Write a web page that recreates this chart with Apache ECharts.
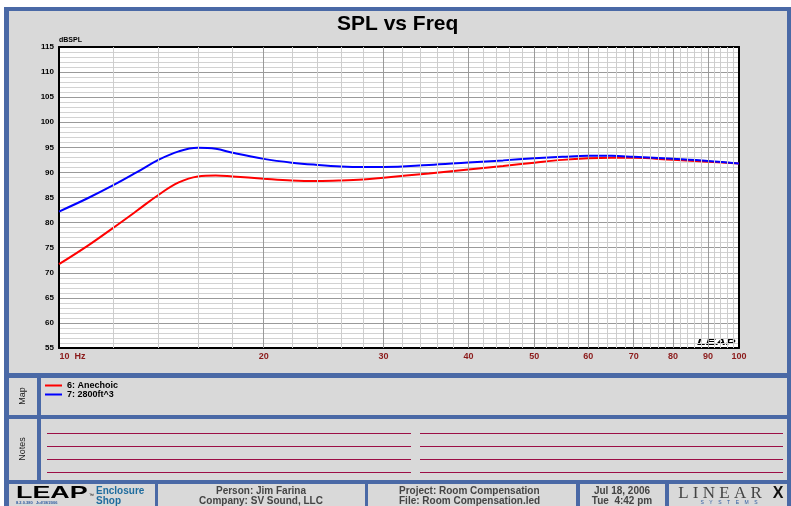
<!DOCTYPE html>
<html>
<head>
<meta charset="utf-8">
<script src="https://cdn.jsdelivr.net/npm/echarts@6/dist/echarts.min.js"></script>
<style>
  html, body { margin: 0; padding: 0; background: #fff; }
  #chart { width: 791px; height: 506px; }
</style>
</head>
<body>
<div id="chart"></div>
<script>
// frequency points (Hz)
const freqs = [10, 11, 12, 13, 14, 15, 16, 17, 18, 20, 22, 24, 26, 28, 30, 35, 40, 45, 50, 55, 60, 65, 70, 80, 90, 100];
// 6: Anechoic (dBSPL)
const anechoic = [71.7, 75.3, 78.9, 82.3, 85.5, 88.0, 89.2, 89.4, 89.2, 88.75, 88.4, 88.3, 88.4, 88.6, 88.95, 89.8, 90.6, 91.3, 91.95, 92.5, 92.8, 92.9, 92.9, 92.5, 92.15, 91.8];
// 7: 2800ft^3 (dBSPL)
const room2800 = [82.2, 84.8, 87.4, 90.0, 92.5, 94.2, 94.9, 94.7, 93.9, 92.7, 91.95, 91.5, 91.2, 91.1, 91.1, 91.5, 92.0, 92.4, 92.8, 93.1, 93.3, 93.3, 93.1, 92.7, 92.3, 91.8];

// x axis labels
const xMajor = [10, 20, 30, 40, 50, 60, 70, 80, 90, 100];
const xLabels = ['10  Hz', '20', '30', '40', '50', '60', '70', '80', '90', '100'];

// minor vertical grid every 2 Hz
const xMinor = [];
for (let f = 12; f < 100; f += 2) {
    if (f % 10 !== 0) xMinor.push(f);
}

const blue = '#4a69a6';
const panel = '#d9d9d9';
const lbl = '#8b1a1a';

function box(x, y, w, h, fill) {
    return { type: 'rect', z: -5, silent: true, shape: { x: x, y: y, width: w, height: h }, style: { fill: fill } };
}
function txt(x, y, s, opt) {
    return Object.assign({ type: 'text', x: x, y: y, silent: true, style: Object.assign({
        text: s, fill: '#444', font: 'bold 10px "Liberation Sans", Arial, sans-serif',
        align: 'center', verticalAlign: 'middle'
    }, opt && opt.style) }, opt && opt.el);
}

const graphics = [
    box(4, 7, 787, 499, blue),
    box(9, 11, 778, 362, panel),
    box(9, 378, 28, 37, panel),
    box(41, 378, 746, 37, panel),
    box(9, 419, 28, 61, panel),
    box(41, 419, 746, 61, panel),
    box(9, 484, 146, 30, panel),
    box(158, 484, 207, 30, panel),
    box(368, 484, 208, 30, panel),
    box(580, 484, 85, 30, panel),
    box(669, 484, 118, 30, panel),
    txt(23, 396, 'Map', { el: { rotation: Math.PI / 2 }, style: { font: '9px "Liberation Sans", sans-serif', fill: '#222' } }),
    txt(23, 449, 'Notes', { el: { rotation: Math.PI / 2 }, style: { font: '9px "Liberation Sans", sans-serif', fill: '#222' } }),
    // LEAP mark inside plot
    txt(697, 343, 'LEAP', { el: { scaleX: 1.6 }, style: { align: 'left', fill: '#000', font: 'italic 900 9px "Liberation Sans", sans-serif' } }),
    // footer
    txt(16, 493, 'LEAP', { el: { scaleX: 1.58 }, style: { align: 'left', fill: '#000', font: '900 17px "Liberation Sans", sans-serif' } }),
    txt(89, 496, '™', { style: { align: 'left', fill: '#000', font: '5px sans-serif' } }),
    txt(16, 503, '8.2.0.380   Jul/18/2006', { style: { align: 'left', fill: '#2c5aa0', font: 'bold 4px "Liberation Sans", sans-serif' } }),
    txt(96, 491, 'Enclosure', { style: { align: 'left', fill: '#1f6c9e', font: 'bold 10px "Liberation Sans", sans-serif' } }),
    txt(96, 501, 'Shop', { style: { align: 'left', fill: '#1f6c9e', font: 'bold 10px "Liberation Sans", sans-serif' } }),
    txt(261, 491, 'Person: Jim Farina'),
    txt(261, 501, 'Company: SV Sound, LLC'),
    txt(399, 491, 'Project: Room Compensation', { style: { align: 'left' } }),
    txt(399, 501, 'File: Room Compensation.led', { style: { align: 'left' } }),
    txt(622, 491, 'Jul 18, 2006'),
    txt(622, 501, 'Tue  4:42 pm'),
    txt(720, 494, 'L I N E A R', { style: { fill: '#444', font: '17px "Liberation Serif", serif' } }),
    txt(778, 494, 'X', { style: { fill: '#111', font: '900 16px "Liberation Sans", sans-serif' } }),
    txt(729, 503, 'S    Y    S    T    E    M    S', { style: { fill: '#2c5aa0', font: '5px "Liberation Sans", sans-serif' } })
];

// notes lines (1px rules, two columns)
[433, 446, 459, 472].forEach(function (y) {
    const a = box(47, y, 364, 1, '#9c0f45');
    const b = box(420, y, 363, 1, '#9c0f45');
    a.z = b.z = 0;
    graphics.push(a, b);
});

const chart = echarts.init(document.getElementById('chart'));
chart.setOption({
    animation: false,
    backgroundColor: '#fff',
    textStyle: { fontFamily: '"Liberation Sans", Arial, sans-serif' },
    title: {
        text: 'SPL vs Freq',
        left: 337,
        top: 14,
        padding: 0,
        textStyle: { fontSize: 21, fontWeight: 'bold', color: '#000' }
    },
    legend: {
        data: ['6: Anechoic', '7: 2800ft^3'],
        orient: 'vertical',
        left: 45,
        top: 381,
        padding: 0,
        itemGap: 0,
        itemWidth: 17,
        itemHeight: 2,
        icon: 'rect',
        textStyle: { fontSize: 9, fontWeight: 'bold', color: '#000', lineHeight: 9 }
    },
    graphic: graphics,
    grid: { left: 59, top: 47, width: 680, height: 301, show: true, backgroundColor: '#fff', borderWidth: 0 },
    xAxis: [{
        type: 'log', logBase: 10, min: 10, max: 100, z: 2,
        axisLine: { show: true, lineStyle: { color: '#000', width: 2 } },
        axisTick: { show: false }, axisLabel: { show: false }, splitLine: { show: false }
    }, {
        type: 'log', logBase: 10, min: 10, max: 100, position: 'top', z: 2,
        axisLine: { show: true, lineStyle: { color: '#000', width: 2 } },
        axisTick: { show: false }, axisLabel: { show: false }, splitLine: { show: false }
    }],
    yAxis: [{
        type: 'value', min: 55, max: 115, interval: 5, z: 2,
        name: 'dBSPL', nameLocation: 'end', nameGap: 3,
        nameTextStyle: { align: 'left', fontSize: 7, fontWeight: 'bold', color: '#000' },
        axisLine: { show: true, lineStyle: { color: '#000', width: 2 } },
        axisTick: { show: false },
        axisLabel: { fontSize: 8, fontWeight: 'bold', color: '#000', margin: 5 },
        splitLine: { lineStyle: { color: '#9a9a9a', width: 1 } },
        minorTick: { show: false, splitNumber: 5 },
        minorSplitLine: { show: true, lineStyle: { color: '#d2d2d2', width: 1 } }
    }, {
        type: 'value', min: 55, max: 115, position: 'right', z: 2,
        axisLine: { show: true, lineStyle: { color: '#000', width: 2 } },
        axisTick: { show: false }, axisLabel: { show: false }, splitLine: { show: false }
    }],
    series: [{
        name: 'minor', type: 'line', data: [], z: 1, silent: true,
        markLine: {
            silent: true, symbol: ['none', 'none'],
            label: { show: false },
            lineStyle: { color: '#cdcdcd', width: 1, type: 'solid' },
            emphasis: { disabled: true },
            data: xMinor.map(function (f) { return { xAxis: f }; })
        }
    }, {
        name: 'major', type: 'line', data: [], z: 1, silent: true,
        markLine: {
            silent: true, symbol: ['none', 'none'],
            label: { show: true, position: 'start', distance: 4, color: lbl, fontSize: 9, fontWeight: 'bold' },
            lineStyle: { color: '#9a9a9a', width: 1, type: 'solid' },
            emphasis: { disabled: true },
            data: xMajor.map(function (f, i) {
                const item = { xAxis: f, label: { formatter: xLabels[i] } };
                if (i === 0) item.label.padding = [0, 0, 0, 27];
                if (f === 10 || f === 100) item.lineStyle = { color: 'rgba(0,0,0,0)' };
                return item;
            })
        }
    }, {
        name: '6: Anechoic', type: 'line', z: 3, smooth: 0.4, showSymbol: false,
        lineStyle: { color: '#ff0000', width: 2 }, itemStyle: { color: '#ff0000' },
        data: freqs.map(function (f, i) { return [f, anechoic[i]]; })
    }, {
        name: '7: 2800ft^3', type: 'line', z: 3, smooth: 0.4, showSymbol: false,
        lineStyle: { color: '#0000ff', width: 2 }, itemStyle: { color: '#0000ff' },
        data: freqs.map(function (f, i) { return [f, room2800[i]]; })
    }]
});
</script>
</body>
</html>
